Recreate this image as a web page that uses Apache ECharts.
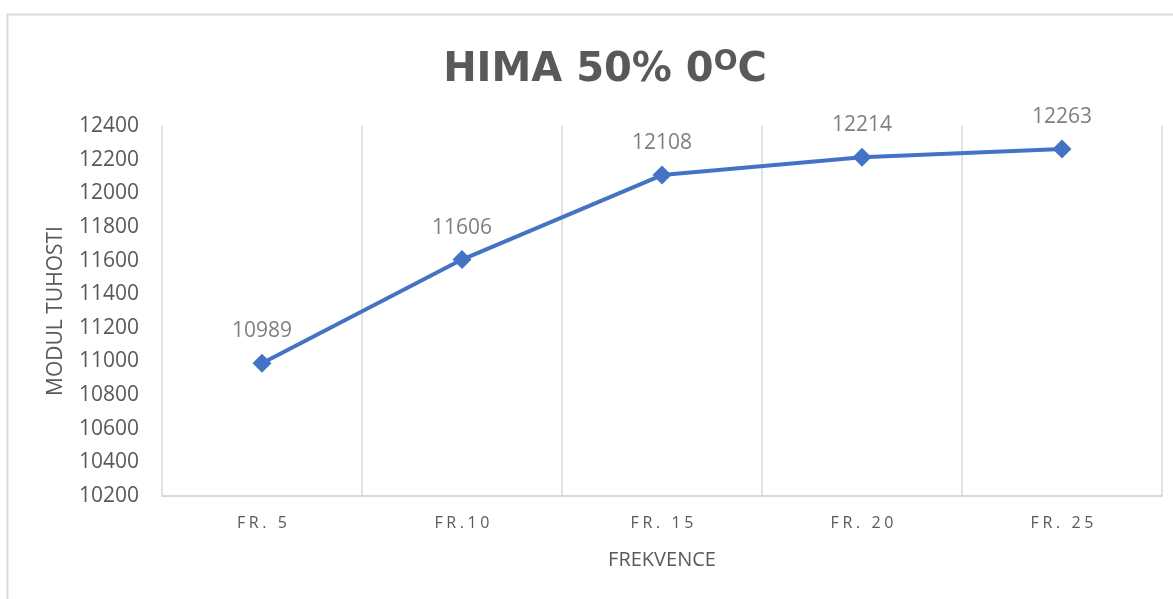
<!DOCTYPE html>
<html>
<head>
<meta charset="utf-8">
<script src="https://cdn.jsdelivr.net/npm/echarts@6/dist/echarts.min.js"></script>
<style>
  html, body { margin: 0; padding: 0; background: #ffffff; }
  #chart { width: 1173px; height: 599px; }
</style>
</head>
<body>
<div id="chart"></div>
<script>
// Frequencies and measured stiffness modulus
const categories = ['FR. 5', 'FR.10', 'FR. 15', 'FR. 20', 'FR. 25'];
const modulus = [10989, 11606, 12108, 12214, 12263];
const yMin = 10200;
const yMax = 12400;
const yStep = 200;

// Spread letters apart using one rich-text token per character
function spaced(text, style) {
  return text.split('').map(ch => '{' + style + '|' + ch + '}').join('');
}

const chart = echarts.init(document.getElementById('chart'), null, { renderer: 'canvas' });

chart.setOption({
  animation: false,
  backgroundColor: '#ffffff',
  graphic: [{
    type: 'rect',
    shape: { x: 7.5, y: 14.5, width: 1300, height: 700 },
    style: { fill: 'none', stroke: '#d9d9d9', lineWidth: 2 },
    silent: true
  }],
  title: {
    text: 'HIMA 50% 0{sup|O}C',
    left: 600,
    textAlign: 'center',
    top: 44,
    textStyle: {
      fontFamily: 'DejaVu Sans',
      fontWeight: 'bold',
      fontSize: 40,
      color: '#595959',
      rich: {
        sup: {
          fontFamily: 'DejaVu Sans',
          fontWeight: 'bold',
          fontSize: 28,
          color: '#595959',
          verticalAlign: 'top',
          padding: [0, 0, 15, 0]
        }
      }
    }
  },
  grid: { left: 162, right: 11, top: 126, bottom: 103 },
  xAxis: {
    type: 'category',
    data: categories,
    boundaryGap: true,
    name: 'FREKVENCE',
    nameLocation: 'middle',
    nameGap: 54,
    nameTextStyle: { fontFamily: 'Open Sans', fontSize: 20, color: '#595959' },
    axisLine: { show: true, lineStyle: { color: '#d9d9d9', width: 2 } },
    axisTick: { show: false },
    axisLabel: {
      margin: 19,
      formatter: v => spaced(v, 'c'),
      rich: {
        c: { fontFamily: 'Open Sans', fontSize: 16, color: '#595959', padding: [0, 1.8] }
      }
    },
    splitLine: { show: true, lineStyle: { color: '#d9d9d9', width: 1.5 } }
  },
  yAxis: {
    type: 'value',
    min: yMin,
    max: yMax,
    interval: yStep,
    name: 'MODUL TUHOSTI',
    nameLocation: 'middle',
    nameGap: 95,
    nameTextStyle: { fontFamily: 'Open Sans', fontSize: 21, color: '#595959' },
    axisLine: { show: false },
    axisTick: { show: false },
    axisLabel: {
      margin: 23,
      fontFamily: 'Open Sans',
      fontSize: 21,
      color: '#595959',
      formatter: v => String(v)
    },
    splitLine: { show: false }
  },
  series: [{
    type: 'line',
    data: modulus,
    symbol: 'diamond',
    symbolSize: 19,
    lineStyle: { color: '#4472c4', width: 4 },
    itemStyle: { color: '#4472c4' },
    label: {
      show: true,
      position: 'top',
      distance: 12,
      fontFamily: 'Open Sans',
      fontSize: 21,
      color: '#7f7f7f'
    }
  }]
});
</script>
</body>
</html>
